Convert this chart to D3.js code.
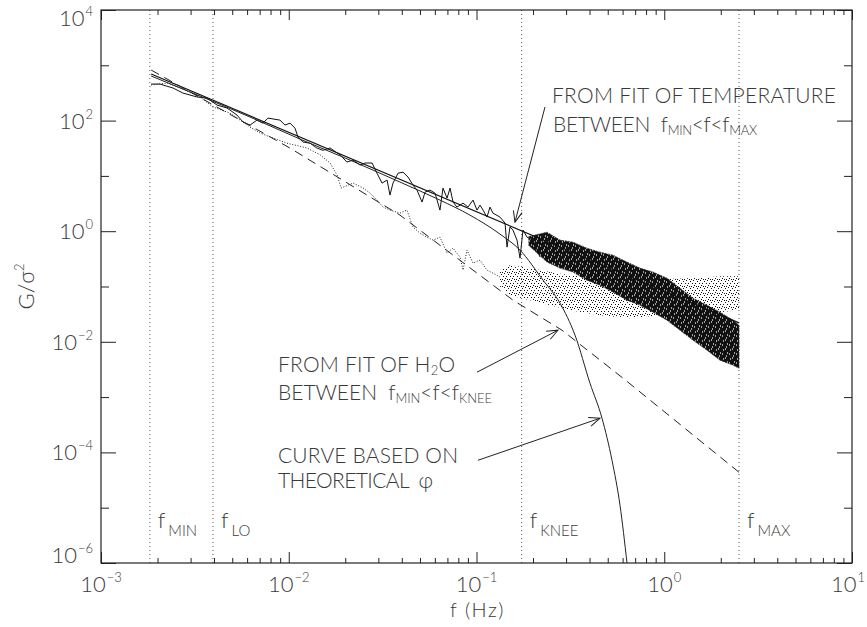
<!DOCTYPE html>
<html>
<head>
<meta charset="utf-8">
<script src="https://d3js.org/d3.v7.min.js"></script>
<style>
  body { margin: 0; background: #fff; }
  svg text { font-family: Lato, Roboto, "Liberation Sans", sans-serif; font-weight: 300; fill: #3a3a3a; }
</style>
</head>
<body>
<div id="chart"></div>
<script>
// ---- data (f in Hz, G/sigma^2) ----
const fMin = 0.00182, fLo = 0.00395, fKnee = 0.174, fMax = 2.5;

const xTickValues = [1e-3, 1e-2, 1e-1, 1e0, 1e1];
const xTickExps = ['−3', '−2', '−1', '0', '1'];
const yTickValues = [1e-6, 1e-5, 1e-4, 1e-3, 1e-2, 1e-1, 1e0, 1e1, 1e2, 1e3, 1e4];
const yTickExps = ['−6', '', '−4', '', '−2', '', '0', '', '2', '', '4'];

// temperature spectrum, low frequency part (single trace)
const tempF = [1.85e-3, 2.06e-3, 2.42e-3, 2.73e-3, 3.25e-3, 3.67e-3, 4.15e-3, 4.69e-3, 5.30e-3, 5.71e-3,
  6.22e-3, 6.77e-3, 7.29e-3, 7.75e-3, 8.25e-3, 8.98e-3, 9.55e-3, 1.016e-2, 1.08e-2, 1.12e-2,
  1.19e-2, 1.30e-2, 1.41e-2, 1.52e-2, 1.66e-2, 1.81e-2, 1.88e-2, 2.04e-2, 2.20e-2, 2.40e-2,
  2.55e-2, 2.78e-2, 2.95e-2, 3.14e-2, 3.34e-2, 3.46e-2, 3.59e-2, 3.82e-2, 4.06e-2, 4.32e-2,
  4.59e-2, 4.82e-2, 5.13e-2, 5.32e-2, 5.65e-2, 6.01e-2, 6.39e-2, 6.63e-2, 6.97e-2, 7.23e-2,
  7.50e-2, 7.87e-2, 8.48e-2, 9.01e-2, 9.58e-2, 0.1006, 0.1044, 0.1083, 0.1137, 0.1180,
  0.1224, 0.1334, 0.1419, 0.1454, 0.1508, 0.1564, 0.1643, 0.1705, 0.1769, 0.1858,
  0.2000, 0.2179];
const tempG = [458, 458, 388, 315, 267, 256, 191, 169, 126, 94,
  83, 102, 90, 111, 107, 102, 83, 90, 73, 50,
  41, 39, 32, 29, 32, 26, 24, 17.8, 19.3, 15.7,
  17.1, 17.1, 11.2, 7.41, 8.40, 4.50, 7.41, 11.2, 11.7, 9.52,
  6.82, 5.54, 3.36, 5.10, 5.54, 4.89, 2.41, 6.02, 3.97, 6.02,
  3.36, 2.73, 3.22, 2.73, 3.65, 2.41, 2.96, 2.41, 1.80, 2.73,
  2.12, 1.80, 1.40, 0.515, 1.19, 1.05, 0.690, 0.326, 1.05, 0.781,
  0.690, 0.340];

// temperature spectrum, high frequency part (dense noise, envelope)
const tempBandF = [0.190, 0.2375, 0.2784, 0.3266, 0.3876, 0.4548, 0.5333, 0.6332,
  0.7428, 0.8713, 1.034, 1.213, 1.423, 1.689, 1.981, 2.324, 2.501];
const tempBandHi = [0.80, 0.962, 0.690, 0.634, 0.494, 0.418, 0.369, 0.276,
  0.215, 0.182, 0.1416, 0.0934, 0.0615, 0.0460, 0.0343, 0.0246, 0.0200];
const tempBandLo = [0.55, 0.276, 0.215, 0.182, 0.130, 0.1057, 0.0790, 0.0566,
  0.0460, 0.0343, 0.0246, 0.0162, 0.0107, 0.00705, 0.00465, 0.00378, 0.00333];

// H2O spectrum, low frequency part
const h2oF = [1.85e-3, 2.25e-3, 2.64e-3, 3.37e-3, 3.95e-3, 4.86e-3, 6.22e-3, 7.03e-3, 9.79e-3, 1.25e-2,
  1.47e-2, 1.66e-2, 1.81e-2, 1.90e-2, 2.20e-2, 2.49e-2, 2.71e-2, 2.95e-2, 3.18e-2, 3.46e-2,
  3.91e-2, 4.26e-2, 4.59e-2, 5.00e-2, 5.45e-2, 5.87e-2, 6.39e-2, 6.97e-2, 7.50e-2, 8.17e-2,
  8.48e-2, 8.90e-2, 9.58e-2, 0.1044, 0.1137, 0.1224, 0.1334];
const h2oG = [440, 478, 388, 267, 176, 137, 76.4, 59.5, 39, 32,
  24, 17.1, 10.3, 6.02, 7.41, 6.02, 4.89, 3.65, 2.73, 2.41,
  2.12, 2.41, 1.19, 0.923, 0.781, 0.690, 0.781, 0.401, 0.494, 0.340,
  0.198, 0.455, 0.265, 0.300, 0.198, 0.174, 0.148];

// H2O spectrum, high frequency part (scattered dots, envelope)
const h2oBandF = [0.1334, 0.1508, 0.1928, 0.2464, 0.3148, 0.4548, 0.6571, 0.9494, 1.372, 1.981, 2.501];
const h2oBandHi = [0.20, 0.243, 0.215, 0.182, 0.160, 0.148, 0.130, 0.136, 0.1416, 0.154, 0.154];
const h2oBandLo = [0.10, 0.0698, 0.0566, 0.0460, 0.0373, 0.0303, 0.0267, 0.0303, 0.0343, 0.0343, 0.0373];

// power law fit to temperature, f_MIN..f_MAX
const tempFitF = [1.85e-3, 2.5];
const tempFitG = [695, 0.022];

// fit to H2O, f_MIN..f_KNEE extended to f_MAX
const h2oFitF = [1.85e-3, 1.016e-2, 3.913e-2, 0.1564, 0.2854, 0.603, 2.5];
const h2oFitG = [821, 31.8, 1.95, 0.0566, 0.0162, 2.2e-3, 4.38e-5];

// curve based on theoretical phi
const theoF = [1.85e-3, 3.37e-3, 6.22e-3, 1.148e-2, 2.12e-2, 3.913e-2, 6.39e-2, 9.235e-2, 0.1334,
  0.1705, 0.2262, 0.2784, 0.3347, 0.4023, 0.4661, 0.5268, 0.5811, 0.6332];
const theoG = [640, 278, 116, 46.3, 19.3, 7.73, 3.65, 1.95, 0.886,
  0.455, 0.130, 0.0500, 0.0132, 1.78e-3, 4.15e-4, 7.21e-5, 1.11e-5, 1e-6];

// ---- chart ----
const width = 867, height = 627;
const margin = { left: 101, right: 15, top: 10, bottom: 64 };
const x0 = margin.left, x1 = width - margin.right;
const y0 = height - margin.bottom, y1 = margin.top;

const x = d3.scaleLog().domain([1e-3, 1e1]).range([x0, x1]);
const y = d3.scaleLog().domain([1e-6, 1e4]).range([y0, y1]);

const svg = d3.select('#chart').append('svg')
  .attr('width', width)
  .attr('height', height);

const defs = svg.append('defs');
// dark noisy fill for the temperature spectrum
const hatch = defs.append('pattern')
  .attr('id', 'hatch')
  .attr('patternUnits', 'userSpaceOnUse')
  .attr('width', 7).attr('height', 9);
hatch.append('rect').attr('width', 7).attr('height', 9).attr('fill', '#111');
[[1, 2], [4, 6], [6, 1], [2, 7], [5, 4]].forEach(p => {
  hatch.append('rect').attr('x', p[0]).attr('y', p[1])
    .attr('width', 1).attr('height', 2).attr('fill', '#fff').attr('opacity', 0.6);
});
// sparse speckle for the H2O spectrum
const speckle = defs.append('pattern')
  .attr('id', 'speckle')
  .attr('patternUnits', 'userSpaceOnUse')
  .attr('width', 7).attr('height', 7);
[[0, 0], [4, 1], [2, 3], [6, 3], [1, 5], [5, 6], [3, 6]].forEach(p => {
  speckle.append('rect').attr('x', p[0]).attr('y', p[1])
    .attr('width', 1).attr('height', 1).attr('fill', '#111');
});
defs.append('clipPath').attr('id', 'plotclip')
  .append('rect').attr('x', x0).attr('y', y1).attr('width', x1 - x0).attr('height', y0 - y1);
defs.append('marker')
  .attr('id', 'arrow')
  .attr('markerUnits', 'userSpaceOnUse')
  .attr('viewBox', '-1 -6 13 12')
  .attr('refX', 11).attr('refY', 0)
  .attr('markerWidth', 13).attr('markerHeight', 12)
  .attr('orient', 'auto')
  .append('path')
  .attr('d', 'M0,-4.5 L11,0 L0,4.5')
  .attr('fill', 'none')
  .attr('stroke', '#222')
  .attr('stroke-width', 1);

// vertical dotted lines at the marked frequencies
const marks = [
  { f: fMin, sub: 'MIN' },
  { f: fLo, sub: 'LO' },
  { f: fKnee, sub: 'KNEE' },
  { f: fMax, sub: 'MAX' }
];
svg.append('g').selectAll('line')
  .data(marks)
  .enter()
  .append('line')
  .attr('x1', d => x(d.f)).attr('x2', d => x(d.f))
  .attr('y1', y1).attr('y2', y0)
  .attr('stroke', '#555')
  .attr('stroke-width', 1)
  .attr('stroke-dasharray', '1,3');

const marklabels = svg.append('g').selectAll('text')
  .data(marks)
  .enter()
  .append('text')
  .attr('x', d => x(d.f) + 8)
  .attr('y', 528)
  .attr('font-size', 22);
marklabels.append('tspan').text('f');
marklabels.append('tspan').attr('dx', 3).attr('dy', 8).attr('font-size', 15).text(d => d.sub);

const plot = svg.append('g').attr('clip-path', 'url(#plotclip)');

const pts = (fs, gs) => fs.map((f, i) => [f, gs[i]]);
const line = d3.line().x(d => x(d[0])).y(d => y(d[1]));
const band = (fs, hi, lo) => fs.map((f, i) => ({ f: f, hi: hi[i], lo: lo[i] }));
const area = d3.area().x(d => x(d.f)).y0(d => y(d.lo)).y1(d => y(d.hi));

// H2O: dotted trace + speckled band
plot.append('path')
  .datum(band(h2oBandF, h2oBandHi, h2oBandLo))
  .attr('d', area)
  .attr('fill', 'url(#speckle)');
plot.append('path')
  .datum(pts(h2oF, h2oG))
  .attr('d', line)
  .attr('fill', 'none')
  .attr('stroke', '#222')
  .attr('stroke-width', 1)
  .attr('stroke-dasharray', '1,1.7');

// temperature: solid trace + dense band
plot.append('path')
  .datum(band(tempBandF, tempBandHi, tempBandLo))
  .attr('d', area)
  .attr('fill', 'url(#hatch)')
  .attr('stroke', '#333')
  .attr('stroke-width', 0.8)
  .attr('stroke-dasharray', '2,1');
plot.append('path')
  .datum(pts(tempF, tempG))
  .attr('d', line)
  .attr('fill', 'none')
  .attr('stroke', '#111')
  .attr('stroke-width', 1);

// fits
plot.append('path')
  .datum(pts(tempFitF, tempFitG))
  .attr('d', line)
  .attr('fill', 'none')
  .attr('stroke', '#111')
  .attr('stroke-width', 1.2);
plot.append('path')
  .datum(pts(h2oFitF, h2oFitG))
  .attr('d', line)
  .attr('fill', 'none')
  .attr('stroke', '#222')
  .attr('stroke-width', 1)
  .attr('stroke-dasharray', '9,6');
plot.append('path')
  .datum(pts(theoF, theoG))
  .attr('d', d3.line().curve(d3.curveMonotoneX).x(d => x(d[0])).y(d => y(d[1])))
  .attr('fill', 'none')
  .attr('stroke', '#222')
  .attr('stroke-width', 1);

// ---- axes: box with inward ticks ----
const isDecade = v => Math.abs(Math.log10(v) - Math.round(Math.log10(v))) < 1e-9;
const xMinor = x.ticks().filter(v => !isDecade(v));
const yMinor = yTickValues.filter((v, i) => yTickExps[i] === '');
const yMajor = yTickValues.filter((v, i) => yTickExps[i] !== '');

function styleAxis(g) {
  g.select('.domain').remove();
  g.selectAll('.tick line').attr('stroke', '#222').attr('stroke-width', 1);
  g.selectAll('.tick text').remove();
}
svg.append('g').attr('transform', `translate(0,${y0})`)
  .call(d3.axisBottom(x).tickValues(xMinor).tickSize(-5)).call(styleAxis);
svg.append('g').attr('transform', `translate(0,${y0})`)
  .call(d3.axisBottom(x).tickValues(xTickValues).tickSize(-11)).call(styleAxis);
svg.append('g').attr('transform', `translate(0,${y1})`)
  .call(d3.axisTop(x).tickValues(xMinor).tickSize(-5)).call(styleAxis);
svg.append('g').attr('transform', `translate(0,${y1})`)
  .call(d3.axisTop(x).tickValues(xTickValues).tickSize(-10)).call(styleAxis);
svg.append('g').attr('transform', `translate(${x0},0)`)
  .call(d3.axisLeft(y).tickValues(yMinor).tickSize(-8)).call(styleAxis);
svg.append('g').attr('transform', `translate(${x0},0)`)
  .call(d3.axisLeft(y).tickValues(yMajor).tickSize(-15)).call(styleAxis);
svg.append('g').attr('transform', `translate(${x1},0)`)
  .call(d3.axisRight(y).tickValues(yMinor).tickSize(-8)).call(styleAxis);
svg.append('g').attr('transform', `translate(${x1},0)`)
  .call(d3.axisRight(y).tickValues(yMajor).tickSize(-15)).call(styleAxis);

svg.append('rect')
  .attr('x', x0).attr('y', y1)
  .attr('width', x1 - x0).attr('height', y0 - y1)
  .attr('fill', 'none')
  .attr('stroke', '#222')
  .attr('stroke-width', 1.2);

// tick labels 10^n (last one kept inside the page)
const xl = svg.append('g').selectAll('text')
  .data(xTickValues)
  .enter()
  .append('text')
  .attr('x', d => Math.min(x(d), width - 19))
  .attr('y', 592)
  .attr('text-anchor', 'middle')
  .attr('font-size', 22);
xl.append('tspan').text('10');
xl.append('tspan').attr('dx', 1).attr('dy', -10).attr('font-size', 13).text((d, i) => xTickExps[i]);

const yl = svg.append('g').selectAll('text')
  .data(yMajor)
  .enter()
  .append('text')
  .attr('x', 93)
  .attr('y', d => Math.min(Math.max(y(d), y1 + 8), y0 - 8) + 8)
  .attr('text-anchor', 'end')
  .attr('font-size', 22);
yl.append('tspan').text('10');
yl.append('tspan').attr('dx', 1).attr('dy', -10).attr('font-size', 13)
  .text(d => yTickExps[yTickValues.indexOf(d)]);

// axis titles
svg.append('text')
  .attr('x', (x0 + x1) / 2 + 1)
  .attr('y', 617)
  .attr('text-anchor', 'middle')
  .attr('font-size', 20)
  .attr('letter-spacing', 1.5)
  .text('f (Hz)');

const yt = svg.append('text')
  .attr('transform', `translate(34,${(y0 + y1) / 2}) rotate(-90)`)
  .attr('text-anchor', 'middle')
  .attr('font-size', 22);
yt.append('tspan').text('G/σ');
yt.append('tspan').attr('dy', -10).attr('font-size', 13).text('2');

// ---- annotations ----
const notes = [
  { x: 552, y: 103, w: 284, parts: [['FROM FIT OF TEMPERATURE']] },
  { x: 553, y: 132, w: 204, parts: [['BETWEEN  f'], ['MIN', 'sub'], ['<f<f'], ['MAX', 'sub']] },
  { x: 278, y: 372, w: 177, parts: [['FROM FIT OF H'], ['2', 'sub'], ['O']] },
  { x: 278, y: 400, w: 214, parts: [['BETWEEN  f'], ['MIN', 'sub'], ['<f<f'], ['KNEE', 'sub']] },
  { x: 278, y: 463, w: 180, parts: [['CURVE BASED ON']] },
  { x: 278, y: 488, w: 155, parts: [['THEORETICAL  φ']] }
];
notes.forEach(n => {
  const t = svg.append('text')
    .attr('x', n.x).attr('y', n.y)
    .attr('font-size', 21)
    .attr('textLength', n.w)
    .attr('lengthAdjust', 'spacing')
    .attr('xml:space', 'preserve');
  let low = false;
  n.parts.forEach(p => {
    const sub = p[1] === 'sub';
    const s = t.append('tspan').text(p[0]);
    if (sub) {
      s.attr('font-size', 13).attr('dy', low ? 0 : 3);
      low = true;
    } else if (low) {
      s.attr('dy', -3);
      low = false;
    }
  });
});

// arrows: tail and tip in data units
const arrows = [
  { from: [0.2316, 176], to: [0.1603, 1.46] },
  { from: [0.1006, 2.82e-3], to: [0.2718, 0.0162] },
  { from: [0.1019, 7.21e-5], to: [0.4548, 4.15e-4] }
];
svg.append('g').selectAll('line')
  .data(arrows)
  .enter()
  .append('line')
  .attr('x1', d => x(d.from[0])).attr('y1', d => y(d.from[1]))
  .attr('x2', d => x(d.to[0])).attr('y2', d => y(d.to[1]))
  .attr('stroke', '#222')
  .attr('stroke-width', 1)
  .attr('marker-end', 'url(#arrow)');
</script>
</body>
</html>
